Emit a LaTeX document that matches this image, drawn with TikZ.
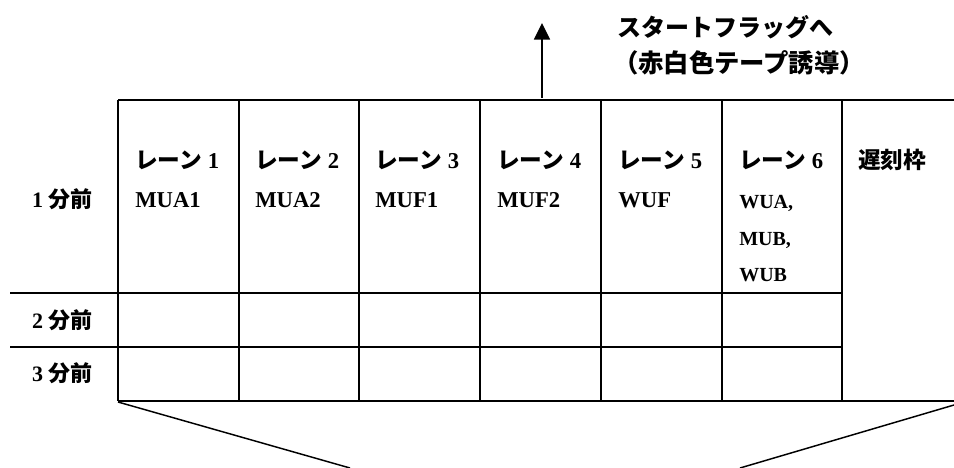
\documentclass[tikz,border=0pt]{standalone}
\usepackage{fontspec}
\setmainfont{Liberation Serif}
\newfontfamily\jp{Noto Sans CJK JP}
\usetikzlibrary{arrows.meta}

\tikzset{
  rule/.style={line width=1.5pt},
  slant/.style={line width=1.1pt},
  head/.style={anchor=base west, inner sep=0pt, font=\fontsize{17}{20}\selectfont\bfseries},
  entry/.style={anchor=base west, inner sep=0pt, font=\fontsize{17}{20}\selectfont\bfseries},
  small entry/.style={anchor=base west, inner sep=0pt, font=\fontsize{15}{18}\selectfont\bfseries},
  minute/.style={anchor=base east, inner sep=0pt, font=\fontsize{16.5}{20}\selectfont\bfseries},
  title/.style={inner sep=0pt, font=\fontsize{18}{22}\selectfont\bfseries\jp},
}

\begin{document}
\begin{tikzpicture}[x=0.75pt, y=-0.75pt]
        \useasboundingbox (0,0) rectangle (954,468);
        % grid of the call area
        \draw[rule] (118,100) -- (954,100);
        \draw[rule] (10,293) -- (842,293);
        \draw[rule] (10,347) -- (842,347);
        \draw[rule] (118,401) -- (954,401);
        \draw[rule] (118,100) -- (118,401);
        \draw[rule] (239,100) -- (239,401);
        \draw[rule] (359,100) -- (359,401);
        \draw[rule] (480,100) -- (480,401);
        \draw[rule] (601,100) -- (601,401);
        \draw[rule] (722,100) -- (722,401);
        \draw[rule] (842,100) -- (842,401);

        % funnel under the table
        \coordinate (funL) at (118,402);
        \coordinate (funLend) at (350,468);
        \coordinate (funR) at (954,405);
        \coordinate (funRend) at (740,468);
        \draw[slant] (funL) -- (funLend);
        \draw[slant] (funR) -- (funRend);

        % way to the start flag
        \coordinate (flagfoot) at (542,98);
        \coordinate (flagtip) at (542,23);
        \draw[line width=1.2pt, -{Triangle[length=12.5pt, width=12pt]}] (flagfoot) -- (flagtip);
        \node[title] (flag) at (725,27) {スタートフラッグへ};
        \node[title, font=\fontsize{19}{22}\selectfont\bfseries\jp] (tape) at (739,63) {（赤白色テープ誘導）};

        % minutes before the start
        \node[minute] (min1) at (93,207) {1 {\jp 分前}};
        \node[minute] (min2) at (93,328) {2 {\jp 分前}};
        \node[minute] (min3) at (93,381) {3 {\jp 分前}};

        % lanes
        \node[head] (lane1) at (135,168) {{\jp レーン} 1};
        \node[head] (lane2) at (255,168) {{\jp レーン} 2};
        \node[head] (lane3) at (375,168) {{\jp レーン} 3};
        \node[head] (lane4) at (497,168) {{\jp レーン} 4};
        \node[head] (lane5) at (618,168) {{\jp レーン} 5};
        \node[head] (lane6) at (739,168) {{\jp レーン} 6};
        \node[head] (late) at (858,168) {\jp 遅刻枠};

        \node[entry] (mua1) at (135,207) {MUA1};
        \node[entry] (mua2) at (255,207) {MUA2};
        \node[entry] (muf1) at (375,207) {MUF1};
        \node[entry] (muf2) at (497,207) {MUF2};
        \node[entry] (wuf) at (618,207) {WUF};
        \node[small entry] (wua) at (739,208) {WUA,};
        \node[small entry] (mub) at (739,245) {MUB,};
        \node[small entry] (wub) at (739,281) {WUB};
      \end{tikzpicture}
\end{document}
